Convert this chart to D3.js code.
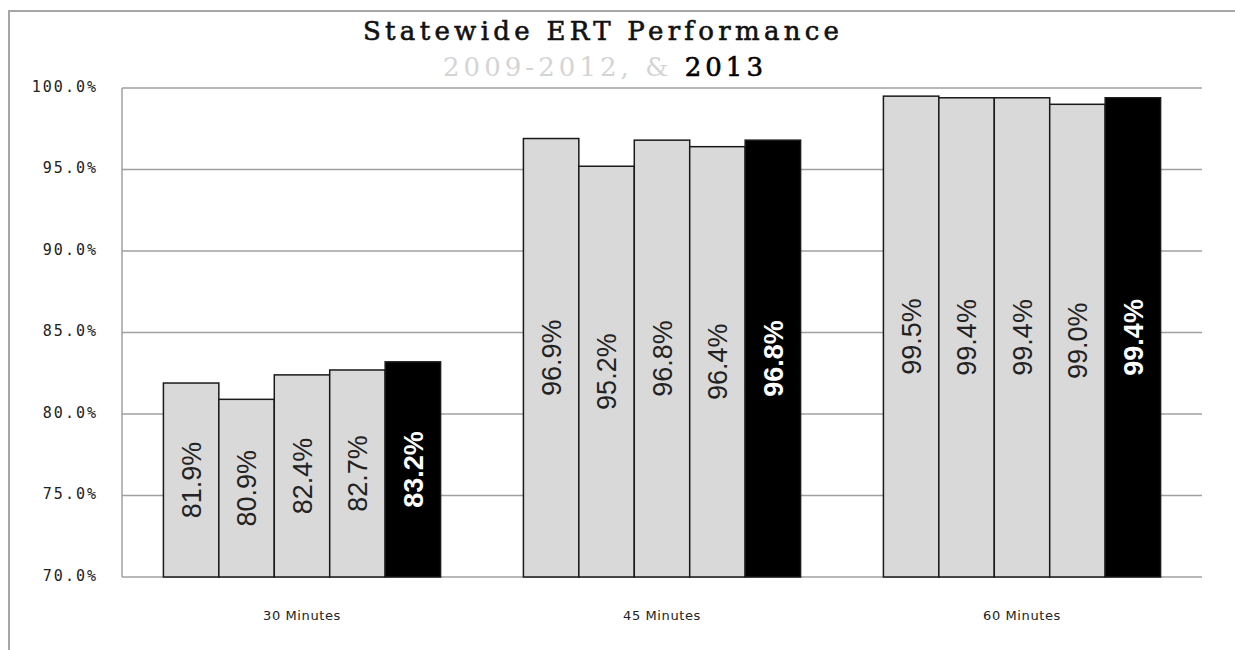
<!DOCTYPE html>
<html>
<head>
<meta charset="utf-8">
<script src="https://cdn.jsdelivr.net/npm/d3@7"></script>
<style>
  html, body { margin: 0; padding: 0; background: #fff; }
  svg { display: block; }
</style>
</head>
<body>
<svg id="chart" width="1235" height="650"></svg>
<script>
// Response-time thresholds (categories) and years (series)
const categories = ["30 Minutes", "45 Minutes", "60 Minutes"];
const years = ["2009", "2010", "2011", "2012", "2013"];
// Percent of calls answered within each threshold, per year
const values2009 = [81.9, 96.9, 99.5];
const values2010 = [80.9, 95.2, 99.4];
const values2011 = [82.4, 96.8, 99.4];
const values2012 = [82.7, 96.4, 99.0];
const values2013 = [83.2, 96.8, 99.4];
const yTicks = [70, 75, 80, 85, 90, 95, 100];

const seriesValues = [values2009, values2010, values2011, values2012, values2013];
const rows = [];
categories.forEach((c, ci) => {
  years.forEach((y, yi) => {
    rows.push({ category: c, year: y, value: seriesValues[yi][ci], highlight: yi === years.length - 1 });
  });
});

const svg = d3.select("#chart");
const W = 1235, H = 650;
const margin = { left: 122, right: 33, top: 88, bottom: 73 };
const plotW = W - margin.left - margin.right;
const plotH = H - margin.top - margin.bottom;

// Outer frame (top and left edges visible)
svg.append("path")
  .attr("d", `M9,${H} V11 H${W}`)
  .attr("fill", "none")
  .attr("stroke", "#a6a6a6")
  .attr("stroke-width", 2);

const g = svg.append("g").attr("transform", `translate(${margin.left},${margin.top})`);

const x0 = d3.scaleBand().domain(categories).range([0, plotW]).paddingInner(0.23).paddingOuter(0.115);
const x1 = d3.scaleBand().domain(years).range([0, x0.bandwidth()]);
const y = d3.scaleLinear().domain([70, 100]).range([plotH, 0]);

// Horizontal gridlines
g.append("g")
  .selectAll("line")
  .data(yTicks)
  .join("line")
  .attr("x1", 0).attr("x2", plotW)
  .attr("y1", d => y(d)).attr("y2", d => y(d))
  .attr("stroke", "#a0a0a0")
  .attr("stroke-width", 1.5);

// Y axis line
g.append("line")
  .attr("x1", 0).attr("x2", 0)
  .attr("y1", 0).attr("y2", plotH)
  .attr("stroke", "#a0a0a0")
  .attr("stroke-width", 1.5);

// Y axis tick labels
const yAxis = d3.axisLeft(y).tickValues(yTicks).tickSize(0).tickPadding(24)
  .tickFormat(d => d3.format(".1f")(d) + "%");
const ya = g.append("g").call(yAxis);
ya.select(".domain").remove();
ya.selectAll("text")
  .attr("font-family", "'DejaVu Sans Mono', monospace")
  .attr("font-size", 15)
  .attr("letter-spacing", 2)
  .attr("fill", "#222")
  .attr("dy", "0.2em");

// Bars
const groups = g.append("g")
  .selectAll("g")
  .data(categories)
  .join("g")
  .attr("transform", d => `translate(${x0(d)},0)`);

groups.selectAll("rect")
  .data(c => rows.filter(r => r.category === c))
  .join("rect")
  .attr("x", d => x1(d.year))
  .attr("y", d => y(d.value))
  .attr("width", x1.bandwidth())
  .attr("height", d => plotH - y(d.value))
  .attr("fill", d => d.highlight ? "#000" : "#d9d9d9")
  .attr("stroke", "#1a1a1a")
  .attr("stroke-width", 1.5);

// Value labels, rotated, centered in each bar
groups.selectAll("text")
  .data(c => rows.filter(r => r.category === c))
  .join("text")
  .attr("transform", d => {
    const cx = x1(d.year) + x1.bandwidth() / 2;
    const cy = (y(d.value) + plotH) / 2;
    return `translate(${cx},${cy}) rotate(-90)`;
  })
  .attr("text-anchor", "middle")
  .attr("dy", "0.36em")
  .attr("font-family", "'Liberation Sans', Arial, sans-serif")
  .attr("font-size", 27)
  .attr("font-weight", d => d.highlight ? "bold" : "normal")
  .attr("fill", d => d.highlight ? "#fff" : "#222")
  .text(d => d3.format(".1f")(d.value) + "%");

// Category labels
g.append("g")
  .selectAll("text")
  .data(categories)
  .join("text")
  .attr("x", d => x0(d) + x0.bandwidth() / 2)
  .attr("y", plotH + 43)
  .attr("text-anchor", "middle")
  .attr("font-family", "'DejaVu Sans', sans-serif")
  .attr("font-size", 13)
  .attr("letter-spacing", 0.6)
  .attr("fill", "#222")
  .text(d => d);

// Title
svg.append("text")
  .attr("x", 363).attr("y", 40)
  .attr("textLength", 476)
  .attr("lengthAdjust", "spacing")
  .attr("font-family", "'DejaVu Serif', serif")
  .attr("font-size", 26)
  .attr("fill", "#111")
  .attr("stroke", "#111")
  .attr("stroke-width", 0.6)
  .text("Statewide ERT Performance");

const sub = svg.append("text")
  .attr("x", 443).attr("y", 76)
  .attr("textLength", 320)
  .attr("lengthAdjust", "spacing")
  .attr("font-family", "'DejaVu Serif', serif")
  .attr("font-size", 26);
sub.append("tspan").attr("fill", "#d4d4d4").text("2009-2012, & ");
sub.append("tspan").attr("fill", "#000").attr("stroke", "#000").attr("stroke-width", 0.6).text("2013");
</script>
</body>
</html>
